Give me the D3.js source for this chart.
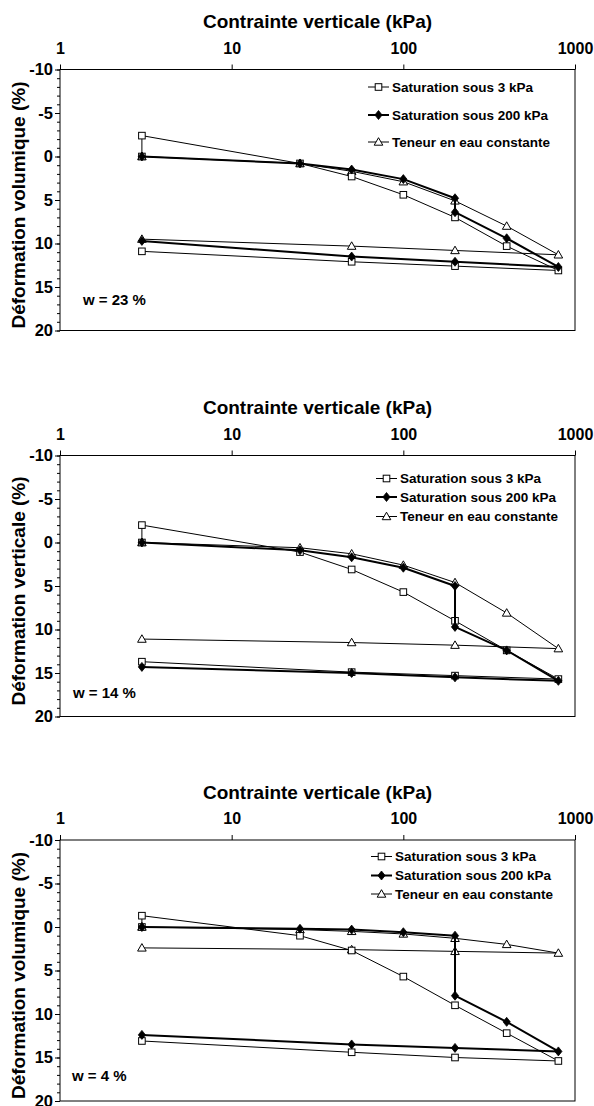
<!DOCTYPE html>
<html>
<head>
<meta charset="utf-8">
<script src="https://cdn.jsdelivr.net/npm/d3@7"></script>
<style>
  body { margin: 0; background: #fff; }
  svg text { font-family: "Liberation Sans", Arial, sans-serif; font-weight: bold; fill: #000; }
</style>
</head>
<body>
<div id="chart"></div>
<script>

// ### DATA START

var seriesNames = ["Saturation sous 3 kPa", "Saturation sous 200 kPa", "Teneur en eau constante"];
var panelLabels = ["w = 23 %", "w = 14 %", "w = 4 %"];
var yTitles = ["Déformation volumique (%)", "Déformation verticale (%)", "Déformation volumique (%)"];
var xTitle = "Contrainte verticale (kPa)";
var xTicks = [1, 10, 100, 1000];
var yTicks = [-10, -5, 0, 5, 10, 15, 20];

// [contrainte kPa, deformation %] along the loading / unloading path
// w = 23 %
var sat3_w23 = [[3, 0], [3, -2.4], [25, 0.8], [50, 2.3], [100, 4.4], [200, 7.0], [400, 10.3], [800, 13.1], [200, 12.6], [50, 12.1], [3, 10.9]];
var sat200_w23 = [[3, 0], [25, 0.8], [50, 1.5], [100, 2.6], [200, 4.8], [200, 6.4], [400, 9.4], [800, 12.7], [200, 12.1], [50, 11.5], [3, 9.7]];
var teneur_w23 = [[3, 0], [25, 0.8], [50, 1.7], [100, 2.9], [200, 5.1], [400, 8.0], [800, 11.3], [200, 10.8], [50, 10.3], [3, 9.5]];

// w = 14 %
var sat3_w14 = [[3, 0], [3, -2.0], [25, 1.1], [50, 3.1], [100, 5.7], [200, 9.0], [400, 12.4], [800, 15.7], [200, 15.3], [50, 14.9], [3, 13.7]];
var sat200_w14 = [[3, 0], [25, 0.9], [50, 1.7], [100, 2.9], [200, 5.0], [200, 9.7], [400, 12.4], [800, 15.9], [200, 15.5], [50, 15.0], [3, 14.3]];
var teneur_w14 = [[3, 0], [25, 0.6], [50, 1.3], [100, 2.6], [200, 4.6], [400, 8.1], [800, 12.2], [200, 11.8], [50, 11.5], [3, 11.1]];

// w = 4 %
var sat3_w4 = [[3, 0], [3, -1.3], [25, 1.0], [50, 2.7], [100, 5.7], [200, 9.0], [400, 12.2], [800, 15.4], [200, 15.0], [50, 14.4], [3, 13.1]];
var sat200_w4 = [[3, 0], [25, 0.2], [50, 0.3], [100, 0.6], [200, 1.0], [200, 7.9], [400, 10.9], [800, 14.3], [200, 13.9], [50, 13.5], [3, 12.4]];
var teneur_w4 = [[3, 0], [25, 0.3], [50, 0.5], [100, 0.8], [200, 1.3], [400, 2.0], [800, 3.0], [200, 2.8], [50, 2.6], [3, 2.4]];

var panelSeries = [
  [sat3_w23, sat200_w23, teneur_w23],
  [sat3_w14, sat200_w14, teneur_w14],
  [sat3_w4, sat200_w4, teneur_w4]
];

// ### DATA END

var W = 594, H = 1106;
var plotW = 515, plotH = 261;
var left = 60;
var panelTops = [69.5, 455.5, 840];

// legend placement per panel (relative to plot box)
var legendPos = [
  { x: 308, rows: [17.5, 45.5, 72.5] },
  { x: 316, rows: [23, 41.5, 61] },
  { x: 311, rows: [16.5, 35.5, 54] }
];
var labelPos = [{ x: 23, y: 230 }, { x: 13, y: 237 }, { x: 12, y: 236 }];

// line width, marker type per series
var styles = [
  { width: 1, marker: 'square' },
  { width: 2, marker: 'diamond' },
  { width: 1, marker: 'triangle' }
];
// teneur below, then 3 kPa, 200 kPa on top
var drawOrder = [2, 0, 1];

var svg = d3.select("#chart").
  append("svg").
  attr("width", W).
  attr("height", H);

var x = d3.scaleLog().domain([1, 1000]).range([0, plotW]);
var y = d3.scaleLinear().domain([-10, 20]).range([0, plotH]);

var line = d3.line()
  .x(function(d) { return x(d[0]); })
  .y(function(d) { return y(d[1]); });

function drawMarker(g, type) {
  if (type === 'square') {
    g.append('rect')
      .attr('x', -3.3).attr('y', -3.3)
      .attr('width', 6.6).attr('height', 6.6)
      .attr('fill', '#fff').attr('stroke', '#000').attr('stroke-width', 1);
  } else if (type === 'diamond') {
    g.append('path')
      .attr('d', 'M0,-4.5L3.6,0L0,4.5L-3.6,0Z')
      .attr('fill', '#000').attr('stroke', '#000').attr('stroke-width', 0.8);
  } else {
    g.append('path')
      .attr('d', 'M0,-4.3L4.3,3.2L-4.3,3.2Z')
      .attr('fill', '#fff').attr('stroke', '#000').attr('stroke-width', 1);
  }
}

panelTops.forEach(function(top, p) {
  var g = svg.append("g")
    .attr("transform", "translate(" + left + "," + top + ")");

  // frame
  g.append("rect")
    .attr("width", plotW).attr("height", plotH)
    .attr("fill", "none").attr("stroke", "#000").attr("stroke-width", 1);

  // top axis (log)
  var xAxis = g.append("g")
    .call(d3.axisTop(x).tickValues(xTicks).tickFormat(function(d) { return String(d); }).tickSize(5).tickSizeOuter(0).tickPadding(11));
  xAxis.select(".domain").remove();
  xAxis.selectAll("text").attr("font-size", 16).attr("font-family", null).style("fill", "#000");

  // left axis, minor ticks then major ticks with labels
  var minor = g.append("g")
    .call(d3.axisLeft(y).tickValues(d3.range(-10, 21)).tickSize(3).tickFormat(""));
  minor.select(".domain").remove();

  var yAxis = g.append("g")
    .call(d3.axisLeft(y).tickValues(yTicks).tickFormat(function(d) { return String(d); }).tickSize(5).tickSizeOuter(0).tickPadding(2));
  yAxis.select(".domain").remove();
  yAxis.selectAll("text").attr("font-size", 16.5).attr("font-family", null).style("fill", "#000");

  // titles
  g.append("text")
    .attr("x", plotW / 2).attr("y", -48).attr("dy", "0.35em")
    .attr("text-anchor", "middle").attr("font-size", 19)
    .text(xTitle);

  g.append("text")
    .attr("transform", "translate(" + (18 - left) + "," + (plotH / 2 + 5) + ") rotate(-90)")
    .attr("dy", "0.35em")
    .attr("text-anchor", "middle").attr("font-size", 19)
    .text(yTitles[p]);

  // ### SERIES
  drawOrder.forEach(function(s) {
    var data = panelSeries[p][s];
    g.append("path")
      .datum(data)
      .attr("fill", "none").attr("stroke", "#000")
      .attr("stroke-width", styles[s].width)
      .attr("stroke-linejoin", "round")
      .attr("d", line);

    g.selectAll(null)
      .data(data)
      .enter()
      .append("g")
      .attr("transform", function(d) { return "translate(" + x(d[0]) + "," + y(d[1]) + ")"; })
      .each(function() { drawMarker(d3.select(this), styles[s].marker); });
  });

  // legend
  var lp = legendPos[p];
  seriesNames.forEach(function(name, s) {
    var row = g.append("g").attr("transform", "translate(" + lp.x + "," + lp.rows[s] + ")");
    row.append("line")
      .attr("x1", 0).attr("x2", 21)
      .attr("stroke", "#000").attr("stroke-width", styles[s].width);
    var m = row.append("g").attr("transform", "translate(10.5,0)");
    drawMarker(m, styles[s].marker);
    row.append("text")
      .attr("x", 24).attr("dy", "0.35em")
      .attr("font-size", 13.5)
      .text(name);
  });

  g.append("text")
    .attr("x", labelPos[p].x).attr("y", labelPos[p].y).attr("dy", "0.35em")
    .attr("font-size", 15)
    .text(panelLabels[p]);
});

</script>
</body>
</html>
